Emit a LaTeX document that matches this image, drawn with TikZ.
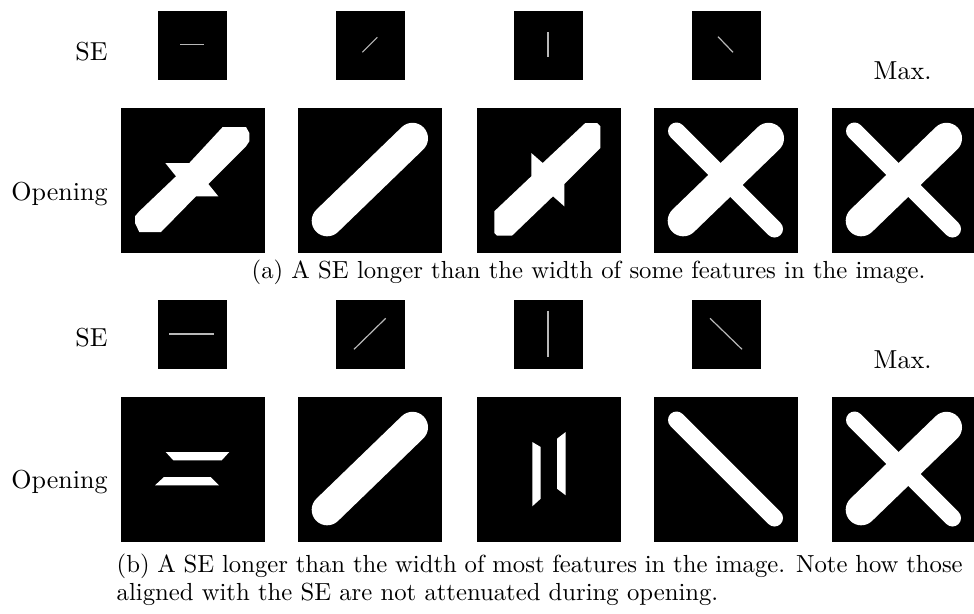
\documentclass[tikz,border=0pt]{standalone}
\usepackage{fontspec}
\setmainfont{lmroman10-regular.otf}
\begin{document}
\begin{tikzpicture}[x=1pt,y=-1pt,
  every node/.style={inner sep=0pt,outer sep=0pt},
  font=\fontsize{26}{27.3}\selectfont,
  bigbox/.style={fill=black,minimum width=144pt,minimum height=145pt,anchor=north west},
  sebox/.style={fill=black,minimum width=69pt,minimum height=69pt,anchor=north west},
  seline/.style={draw=white!72!black,line width=1.2pt},
  blob/.style={fill=white},
  band/.style={draw=white,line cap=round},
  lbl/.style={anchor=base east},
  captext/.style={anchor=base west,font=\fontsize{24.7}{26}\selectfont},
]
\useasboundingbox (0,0) rectangle (974,613);

% ---------------- (a) ----------------
\node[lbl] (se1) at (107.5,60) {SE};
\node[sebox] (sa1) at (158,11) {};
\node[sebox] (sa2) at (336,11) {};
\node[sebox] (sa3) at (514,11) {};
\node[sebox] (sa4) at (692,11) {};
\node[anchor=base west] (max1) at (873.7,79) {Max.};

\begin{scope}[shift={(sa1.north west)}]\draw[seline] (22,33.5) -- (46,33.5);\end{scope}
\begin{scope}[shift={(sa2.north west)}]\draw[seline] (26.3,41.3) -- (41.3,26.3);\end{scope}
\begin{scope}[shift={(sa3.north west)}]\draw[seline] (34,21.3) -- (34,45.7);\end{scope}
\begin{scope}[shift={(sa4.north west)}]\draw[seline] (26,25.7) -- (41,41.3);\end{scope}

\node[lbl] (op1) at (107.5,200) {Opening};
\node[bigbox] (a1) at (121,108) {};
\node[bigbox] (a2) at (298,108) {};
\node[bigbox] (a3) at (477,108) {};
\node[bigbox] (a4) at (654,108) {};
\node[bigbox] (a5) at (832,108) {};

\begin{scope}[shift={(a1.north west)}]
\fill[blob] (101.7,19) -- (125,19) -- (128.3,25) -- (128.3,33.3) -- (125,38.3) -- (87.3,76) -- (97.3,88.3) -- (75,88.3) -- (40,124) -- (18.3,124) -- (14,115) -- (14,108.3) -- (18.3,103.3) -- (55,68.3) -- (44.3,55) -- (68.3,55) -- cycle;
\end{scope}
\begin{scope}[shift={(a2.north west)}]
\draw[band,line width=31pt] (29.2,112.8) -- (114.5,30.3);
\end{scope}
\begin{scope}[shift={(a3.north west)}]
\fill[blob] (108.3,15) -- (120,15) -- (123.3,18.3) -- (123.3,40) -- (87.3,76) -- (87.3,98.3) -- (76,88.3) -- (35,127.7) -- (20,127.7) -- (17.3,125) -- (17.3,103.3) -- (54.3,68.3) -- (54.3,45) -- (65.7,55) -- cycle;
\end{scope}
\begin{scope}[shift={(a4.north west)}]
\draw[band,line width=31pt] (29.2,112.8) -- (114.5,30.3);
\draw[band,line width=17pt] (22.5,23) -- (120.5,121);
\end{scope}
\begin{scope}[shift={(a5.north west)}]
\draw[band,line width=31pt] (29.2,112.8) -- (114.5,30.3);
\draw[band,line width=17pt] (22.5,23) -- (120.5,121);
\end{scope}

\node[captext] (capa) at (251.7,278) {(a) A SE longer than the width of some features in the image.};

% ---------------- (b) ----------------
\node[lbl] (se2) at (107.5,346.7) {SE};
\node[sebox] (sb1) at (158,300) {};
\node[sebox] (sb2) at (336,300) {};
\node[sebox] (sb3) at (514,300) {};
\node[sebox] (sb4) at (692,300) {};
\node[anchor=base west] (max2) at (873.7,368.3) {Max.};

\begin{scope}[shift={(sb1.north west)}]\draw[seline] (11,34) -- (56.3,34);\end{scope}
\begin{scope}[shift={(sb2.north west)}]\draw[seline] (18,49.3) -- (49.7,18.3);\end{scope}
\begin{scope}[shift={(sb3.north west)}]\draw[seline] (34,10.7) -- (34,56.7);\end{scope}
\begin{scope}[shift={(sb4.north west)}]\draw[seline] (18,18.3) -- (50,49.3);\end{scope}

\node[lbl] (op2) at (107.5,488.3) {Opening};
\node[bigbox] (b1) at (121,397) {};
\node[bigbox] (b2) at (298,397) {};
\node[bigbox] (b3) at (477,397) {};
\node[bigbox] (b4) at (654,397) {};
\node[bigbox] (b5) at (832,397) {};

\begin{scope}[shift={(b1.north west)}]
\fill[blob] (44.7,55) -- (108.3,55) -- (100.7,63.3) -- (52.3,63.3) -- cycle;
\fill[blob] (43,80) -- (89.7,80) -- (98,88.3) -- (34,88.3) -- cycle;
\end{scope}
\begin{scope}[shift={(b2.north west)}]
\draw[band,line width=31pt] (29.2,112.8) -- (114.5,30.3);
\end{scope}
\begin{scope}[shift={(b3.north west)}]
\fill[blob] (55.3,45) -- (63.7,50) -- (63.7,101.7) -- (55.3,109.3) -- cycle;
\fill[blob] (80,41.7) -- (88.7,35) -- (88.7,98.3) -- (80,91.7) -- cycle;
\end{scope}
\begin{scope}[shift={(b4.north west)}]
\draw[band,line width=17pt] (22.5,23) -- (120.5,121);
\end{scope}
\begin{scope}[shift={(b5.north west)}]
\draw[band,line width=31pt] (29.2,112.8) -- (114.5,30.3);
\draw[band,line width=17pt] (22.5,23) -- (120.5,121);
\end{scope}

\node[captext] (capb1) at (116.7,572.7) {\makebox[846pt][s]{(b) A SE longer than the width of most features in the image. Note how those}};
\node[captext] (capb2) at (116.7,600) {aligned with the SE are not attenuated during opening.};
\end{tikzpicture}
\end{document}
